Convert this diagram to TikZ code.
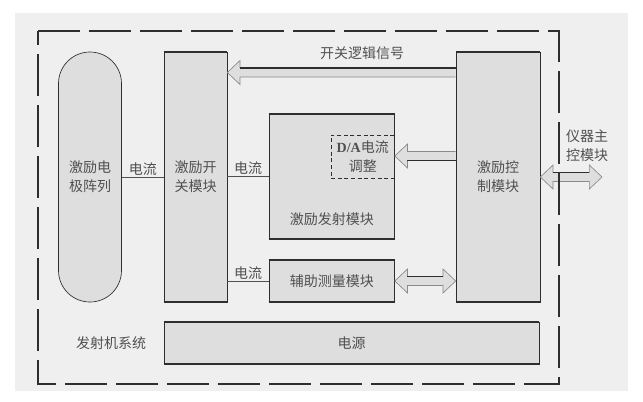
\documentclass[tikz,border=0pt]{standalone}
\usepackage{fontspec}
\setmainfont{Liberation Serif}
\newfontfamily\cjk{Noto Sans CJK SC}
\usepackage{tikz}
\usetikzlibrary{calc}
\definecolor{bgclr}{HTML}{EFEFEF}
\definecolor{boxclr}{HTML}{DEDEDE}
\definecolor{inkclr}{HTML}{2E2E2E}
\definecolor{txtclr}{HTML}{505050}
\definecolor{arrclr}{HTML}{8A8A8A}

\newcommand\cnfont{\cjk\fontsize{10.5pt}{14.5pt}\selectfont}

\tikzset{
  blkbox/.style={draw=inkclr, line width=0.5pt, fill=boxclr, inner sep=0pt,
    text=txtclr, font=\cnfont, align=center},
  edgeline/.style={inkclr, line width=1.3pt},
  wire/.style={draw=txtclr, line width=0.5pt},
  lbl/.style={text=txtclr, font=\cnfont, align=center, inner sep=1pt},
  blkbody/.style={draw=arrclr, line width=0.5pt, fill=boxclr},
  blkedge/.style={inkclr, line width=1.3pt},
}

% single headed block arrow: #1 side of the dark edge (1 top, -1 bottom), #2 tail, #3 tip
\newcommand\blkarrow[3]{%
  \draw[blkbody] let \p1=(#2), \p2=(#3), \n1={sign(\x2-\x1)} in
    (\x1,\y1+3.4pt) -- (\x2-\n1*9.5pt,\y1+3.4pt) -- (\x2-\n1*9.5pt,\y1+9pt)
    -- (\x2,\y1) -- (\x2-\n1*9.5pt,\y1-9pt) -- (\x2-\n1*9.5pt,\y1-3.4pt)
    -- (\x1,\y1-3.4pt);
  \draw[blkedge] let \p1=(#2), \p2=(#3), \n1={sign(\x2-\x1)} in
    (\x1,\y1+#1*3.4pt) -- (\x2-\n1*9.5pt,\y1+#1*3.4pt);
}
% double headed block arrow between #1 and #2
\newcommand\blkboth[2]{%
  \draw[blkbody] let \p1=(#1), \p2=(#2), \n1={sign(\x2-\x1)} in
    (\x1,\y1) -- (\x1+\n1*9.5pt,\y1+9pt) -- (\x1+\n1*9.5pt,\y1+3.4pt)
    -- (\x2-\n1*9.5pt,\y1+3.4pt) -- (\x2-\n1*9.5pt,\y1+9pt) -- (\x2,\y1)
    -- (\x2-\n1*9.5pt,\y1-9pt) -- (\x2-\n1*9.5pt,\y1-3.4pt)
    -- (\x1+\n1*9.5pt,\y1-3.4pt) -- (\x1+\n1*9.5pt,\y1-9pt) -- cycle;
  \draw[blkedge] let \p1=(#1), \p2=(#2), \n1={sign(\x2-\x1)} in
    (\x1+\n1*9.5pt,\y1+3.4pt) -- (\x2-\n1*9.5pt,\y1+3.4pt);
}

\begin{document}
\begin{tikzpicture}[x=0.75pt, y=-0.75pt]

\useasboundingbox (0,0) rectangle (643,401);
\fill[bgclr] (15,13) rectangle (628,391);

% --- blocks ---------------------------------------------------------------
\node[blkbox, rounded corners=23.6pt, minimum width=47.25pt, minimum height=187.5pt]
  (elec) at (90,177) {激励电\\极阵列};
\node[blkbox, minimum width=47.25pt, minimum height=187.5pt]
  (sw) at (195.5,177) {激励开\\关模块};
\node[blkbox, minimum width=63pt, minimum height=187.5pt]
  (ctrl) at (498,177) {激励控\\制模块};
\node[blkbox, minimum width=94.1pt, minimum height=93.75pt,
      label={[lbl, name=emitlbl, anchor=south, yshift=9pt]south:激励发射模块}]
  (emit) at (331.75,176.5) {};
\node[draw=inkclr, densely dashed, line width=0.5pt, minimum width=47.6pt,
      minimum height=32.25pt, text=txtclr, font=\cnfont, align=center, inner sep=0pt]
  (da) at (362.75,156.5) {{\rmfamily\bfseries D/A}电流\\调整};
\node[blkbox, minimum width=94.1pt, minimum height=31.5pt]
  (aux) at (331.75,281) {辅助测量模块};
\node[blkbox, minimum width=281.25pt, minimum height=31.5pt]
  (pwr) at (351.5,343) {电源};

\foreach \n in {sw,ctrl,emit,aux,pwr}
  \draw[edgeline] (\n.north west) -- (\n.north east) (\n.south west) -- (\n.south east);

% --- current wires ----------------------------------------------------------
\draw[wire] (elec) -- node[lbl, above, name=cur1] {电流} (sw);
\draw[wire] (sw.east |- emit.west) -- node[lbl, above, name=cur2] {电流} (emit.west);
\draw[wire] (sw.east |- aux.west) -- node[lbl, above, name=cur3] {电流} (aux.west);

% --- block arrows -----------------------------------------------------------
\coordinate (logic) at (0,72.5);
\coordinate (daline) at (0,156);
\coordinate (hostend) at (602,177);
\blkarrow{1}{ctrl.west |- logic}{sw.east |- logic}
\blkarrow{-1}{ctrl.west |- daline}{da.east |- daline}
\blkboth{aux.east}{ctrl.west |- aux.east}
\blkboth{ctrl.east}{hostend}

% --- labels -----------------------------------------------------------------
\node[lbl] (logiclbl) at (362,53) {开关逻辑信号};
\node[lbl] (host) at (587,146) {仪器主\\控模块};
\node[lbl] (syslbl) at (111,343) {发射机系统};

% --- system fence -----------------------------------------------------------
\draw[inkclr, line width=1.1pt, dash pattern=on 31.5pt off 6.75pt]
  (38,31) -- (559,31) -- (559,384) -- (38,384) -- cycle;

\end{tikzpicture}
\end{document}
